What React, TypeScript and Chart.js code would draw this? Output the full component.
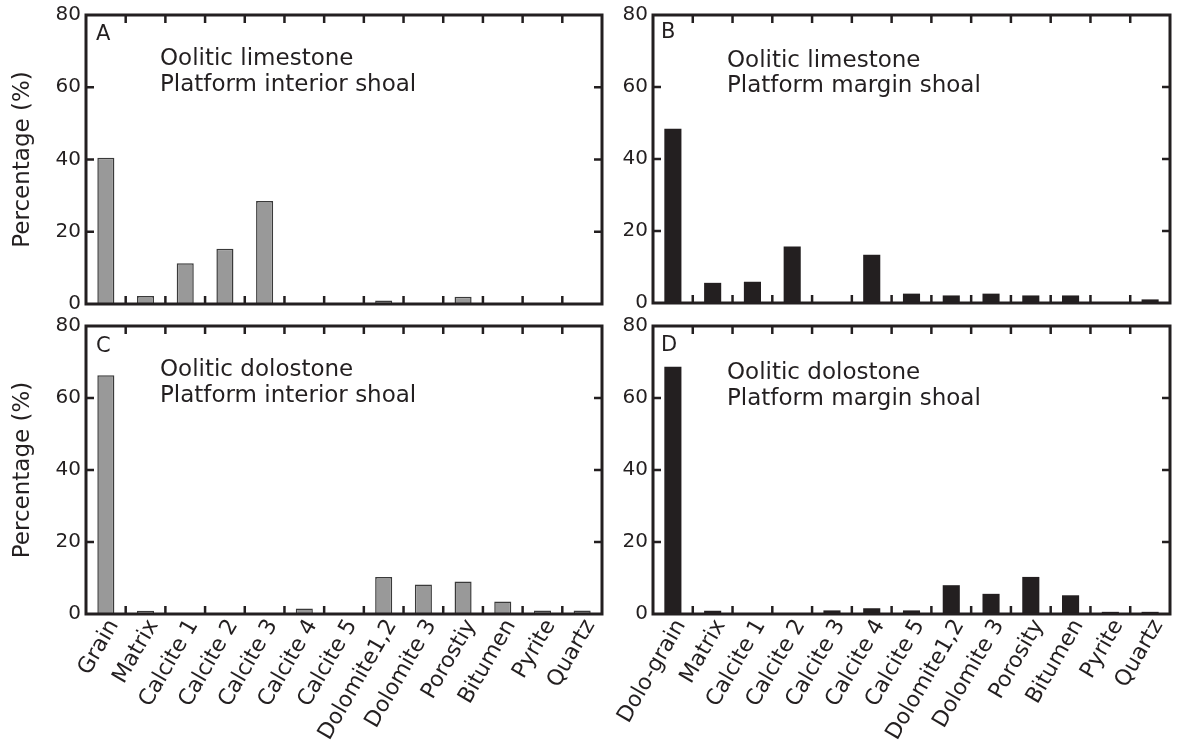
import React, { useEffect, useRef } from 'react';
import { Chart, registerables } from 'chart.js';

Chart.register(...registerables);

// ---------- data ----------
const categoriesLimestone = ['Grain', 'Matrix', 'Calcite 1', 'Calcite 2', 'Calcite 3', 'Calcite 4', 'Calcite 5', 'Dolomite1,2', 'Dolomite 3', 'Porostiy', 'Bitumen', 'Pyrite', 'Quartz'];
const categoriesDolostone = ['Dolo-grain', 'Matrix', 'Calcite 1', 'Calcite 2', 'Calcite 3', 'Calcite 4', 'Calcite 5', 'Dolomite1,2', 'Dolomite 3', 'Porosity', 'Bitumen', 'Pyrite', 'Quartz'];

const valuesA = [40.5, 2.2, 11.3, 15.3, 28.5, 0, 0, 1.0, 0, 2.0, 0, 0, 0];
const valuesB = [48.4, 5.6, 5.9, 15.7, 0, 13.4, 2.6, 2.1, 2.6, 2.1, 2.1, 0, 1.0];
const valuesC = [66.3, 0.9, 0, 0, 0, 1.5, 0, 10.3, 8.2, 9.0, 3.5, 1.0, 1.0];
const valuesD = [68.7, 0.9, 0, 0, 1.0, 1.6, 1.0, 8.0, 5.6, 10.3, 5.2, 0.6, 0.6];

const yTickValues = [0, 20, 40, 60, 80];
const yAxisTitle = 'Percentage (%)';

const panelLetters = ['A', 'B', 'C', 'D'];
const panelNotes = [
  ['Oolitic limestone', 'Platform interior shoal'],
  ['Oolitic limestone', 'Platform margin shoal'],
  ['Oolitic dolostone', 'Platform interior shoal'],
  ['Oolitic dolostone', 'Platform margin shoal'],
];

// ---------- styles ----------
const INK = '#231f20';
const GRAY = '#999999';
const GRAY_EDGE = '#3a3a3a';
const FONT = "'DejaVu Sans', sans-serif";

type Panel = {
  box: { left: number; top: number; w: number; h: number };
  pad: { left: number; top: number; right: number; bottom: number };
  yWidth: number;
  xHeight: number;
  showTitle: boolean;
  showX: boolean;
  labels: string[];
  values: number[];
  fill: string;
  edge: string;
  edgeWidth: number;
  letter: string;
  letterPos: [number, number];
  notes: string[];
  noteY: [number, number];
};

const panels: Panel[] = [
  {
    box: { left: 0, top: 0, w: 620, h: 316 },
    pad: { left: 0, top: 15, right: 18, bottom: 12 },
    yWidth: 86, xHeight: 0, showTitle: true, showX: false,
    labels: categoriesLimestone, values: valuesA,
    fill: GRAY, edge: GRAY_EDGE, edgeWidth: 1.5,
    letter: panelLetters[0], letterPos: [10, 25], notes: panelNotes[0], noteY: [50, 76],
  },
  {
    box: { left: 600, top: 0, w: 577, h: 316 },
    pad: { left: 0, top: 15, right: 7, bottom: 13 },
    yWidth: 53, xHeight: 0, showTitle: false, showX: false,
    labels: categoriesDolostone, values: valuesB,
    fill: INK, edge: INK, edgeWidth: 0,
    letter: panelLetters[1], letterPos: [8, 23], notes: panelNotes[1], noteY: [52, 77],
  },
  {
    box: { left: 0, top: 316, w: 620, h: 433 },
    pad: { left: 0, top: 10, right: 18, bottom: 0 },
    yWidth: 86, xHeight: 135, showTitle: true, showX: true,
    labels: categoriesLimestone, values: valuesC,
    fill: GRAY, edge: GRAY_EDGE, edgeWidth: 1.5,
    letter: panelLetters[2], letterPos: [10, 26], notes: panelNotes[2], noteY: [50, 76],
  },
  {
    box: { left: 600, top: 316, w: 577, h: 433 },
    pad: { left: 0, top: 10, right: 7, bottom: 0 },
    yWidth: 53, xHeight: 135, showTitle: false, showX: true,
    labels: categoriesDolostone, values: valuesD,
    fill: INK, edge: INK, edgeWidth: 0,
    letter: panelLetters[3], letterPos: [8, 25], notes: panelNotes[3], noteY: [53, 79],
  },
];

function framePlugin(p: Panel) {
  return {
    id: 'frame' + p.letter,
    afterDatasetsDraw(chart: any) {
      const { ctx, chartArea } = chart;
      const { left, right, top, bottom } = chartArea;
      const xs = chart.scales.x;
      const ys = chart.scales.y;
      const tl = 8;
      ctx.save();
      ctx.strokeStyle = INK;
      ctx.lineWidth = 2.5;
      ctx.beginPath();
      for (let i = 1; i < p.labels.length; i++) {
        const px = (xs.getPixelForValue(i - 1) + xs.getPixelForValue(i)) / 2;
        ctx.moveTo(px, bottom);
        ctx.lineTo(px, bottom - tl);
        ctx.moveTo(px, top);
        ctx.lineTo(px, top + tl);
      }
      yTickValues.forEach((v) => {
        if (v <= 0 || v >= 80) return;
        const py = ys.getPixelForValue(v);
        ctx.moveTo(left, py);
        ctx.lineTo(left + tl, py);
        ctx.moveTo(right, py);
        ctx.lineTo(right - tl, py);
      });
      ctx.stroke();
      ctx.lineWidth = 3;
      ctx.strokeRect(left, top, right - left, bottom - top);

      ctx.fillStyle = INK;
      ctx.textAlign = 'left';
      ctx.textBaseline = 'alphabetic';
      ctx.font = `21px ${FONT}`;
      ctx.fillText(p.letter, left + p.letterPos[0], top + p.letterPos[1]);
      ctx.font = `23px ${FONT}`;
      p.notes.forEach((line, i) => ctx.fillText(line, left + 74, top + p.noteY[i]));
      ctx.restore();
    },
  };
}

function PanelChart({ p }: { p: Panel }) {
  const ref = useRef<HTMLCanvasElement | null>(null);
  useEffect(() => {
    if (!ref.current) return;
    const chart = new Chart(ref.current, {
      type: 'bar',
      data: {
        labels: p.labels,
        datasets: [
          {
            data: p.values,
            backgroundColor: p.fill,
            borderColor: p.edge,
            borderWidth: p.edgeWidth,
            barPercentage: 0.43,
            categoryPercentage: 1,
          },
        ],
      },
      options: {
        responsive: false,
        animation: false,
        events: [],
        layout: { padding: p.pad },
        plugins: { legend: { display: false }, tooltip: { enabled: false } },
        scales: {
          x: {
            type: 'category',
            offset: true,
            grid: { display: false, drawTicks: false },
            border: { display: false },
            ticks: {
              display: p.showX,
              autoSkip: false,
              minRotation: 60,
              maxRotation: 60,
              color: INK,
              font: { family: FONT, size: 22 },
              padding: 1,
              labelOffset: 8,
            },
            afterFit: (s: any) => {
              s.height = p.xHeight;
              s.paddingLeft = 0;
              s.paddingRight = 0;
            },
          },
          y: {
            min: 0,
            max: 80,
            afterBuildTicks: (s: any) => {
              s.ticks = yTickValues.map((v) => ({ value: v }));
            },
            grid: { display: false, drawTicks: false },
            border: { display: false },
            ticks: {
              color: INK,
              font: { family: FONT, size: 20 },
              padding: 5,
            },
            title: {
              display: p.showTitle,
              text: yAxisTitle,
              color: INK,
              font: { family: FONT, size: 23 },
              padding: { top: 9, bottom: 0 },
            },
            afterFit: (s: any) => {
              s.width = p.yWidth;
              s.paddingTop = 0;
              s.paddingBottom = 0;
            },
          },
        },
      },
      plugins: [framePlugin(p)],
    } as any);
    return () => chart.destroy();
  }, [p]);
  return (
    <canvas
      ref={ref}
      width={p.box.w}
      height={p.box.h}
      style={{ position: 'absolute', left: p.box.left, top: p.box.top, width: p.box.w, height: p.box.h }}
    />
  );
}

export default function App() {
  return (
    <div style={{ position: 'fixed', left: 0, top: 0, width: 1177, height: 749, background: '#ffffff', overflow: 'hidden' }}>
      {panels.map((p) => (
        <PanelChart key={p.letter} p={p} />
      ))}
    </div>
  );
}
